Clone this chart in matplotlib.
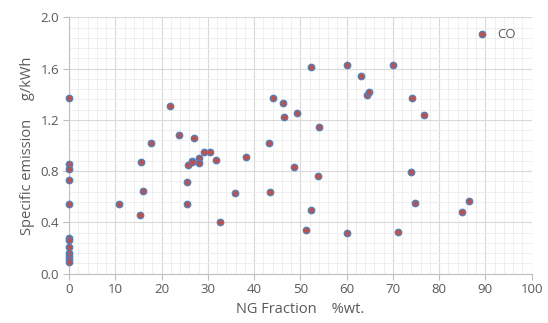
import matplotlib
matplotlib.use("Agg")
import matplotlib.pyplot as plt
from matplotlib.ticker import MultipleLocator

ng_fraction = [0, 0, 0, 0, 0, 0, 0, 0, 0, 0, 0, 0,
               10.8, 15.5, 15.9, 15.4, 17.7, 21.9, 23.7, 25.8, 26.5, 26.5, 25.6, 25.6,
               27.1, 28.2, 28.2, 29.1, 30.5, 31.7, 32.7, 35.9, 38.2,
               43.2, 43.5, 44.2, 46.2, 46.5, 48.6, 49.3, 51.2, 52.3, 52.4, 53.8, 54.0,
               60.0, 60.1, 63.1, 64.4, 64.9, 70.1, 71.1, 73.9, 74.2, 74.8, 76.8,
               84.9, 86.4]
co_emission = [1.368, 0.857, 0.82, 0.733, 0.54, 0.28, 0.26, 0.21, 0.16, 0.135, 0.11, 0.09,
               0.54, 0.875, 0.647, 0.455, 1.023, 1.311, 1.08, 0.85, 0.88, 0.87, 0.715, 0.54,
               1.06, 0.90, 0.862, 0.948, 0.953, 0.889, 0.40, 0.629, 0.909,
               1.023, 0.64, 1.373, 1.332, 1.22, 0.831, 1.25, 0.344, 0.497, 1.615, 0.764, 1.145,
               0.313, 1.628, 1.54, 1.392, 1.418, 1.628, 0.325, 0.792, 1.373, 0.549, 1.239,
               0.479, 0.567]

plt.rcParams['font.family'] = ['Open Sans', 'DejaVu Sans']
text_color = '#595959'

fig = plt.figure(figsize=(5.48, 3.23), dpi=100)
ax = fig.add_axes([0.126, 0.153, 0.844, 0.793])

ax.scatter(ng_fraction, co_emission, s=22, facecolor='#C0504D', edgecolor='#4F81BD',
           linewidths=0.9, label='CO', zorder=3, clip_on=False)

ax.set_xlim(0, 100)
ax.set_ylim(0, 2.0)
ax.xaxis.set_major_locator(MultipleLocator(10))
ax.xaxis.set_minor_locator(MultipleLocator(2))
ax.yaxis.set_major_locator(MultipleLocator(0.4))
ax.yaxis.set_minor_locator(MultipleLocator(0.08))
ax.yaxis.set_major_formatter(matplotlib.ticker.FormatStrFormatter('%.1f'))

ax.grid(which='major', color='#D9D9D9', linewidth=0.8, zorder=0)
ax.grid(which='minor', color='#EDEDED', linewidth=0.6, zorder=0)
ax.set_axisbelow(True)

for s in ['top', 'right']:
    ax.spines[s].set_visible(False)
for s in ['left', 'bottom']:
    ax.spines[s].set_color('#BFBFBF')
    ax.spines[s].set_linewidth(0.8)

ax.tick_params(which='major', length=4, color='#BFBFBF', labelsize=9.5, labelcolor=text_color, pad=3)
ax.tick_params(which='minor', length=0)

ax.set_xlabel('NG Fraction    %wt.', fontsize=10.5, color=text_color, labelpad=4)
ax.set_ylabel('Specific emission     g/kWh', fontsize=10.5, color=text_color, labelpad=4)

leg = ax.legend(loc='upper right', frameon=False, fontsize=9.5, handletextpad=0.1,
                borderaxespad=0.3, bbox_to_anchor=(0.985, 0.995))
for t in leg.get_texts():
    t.set_color(text_color)

fig.savefig('out.png', dpi=100)
